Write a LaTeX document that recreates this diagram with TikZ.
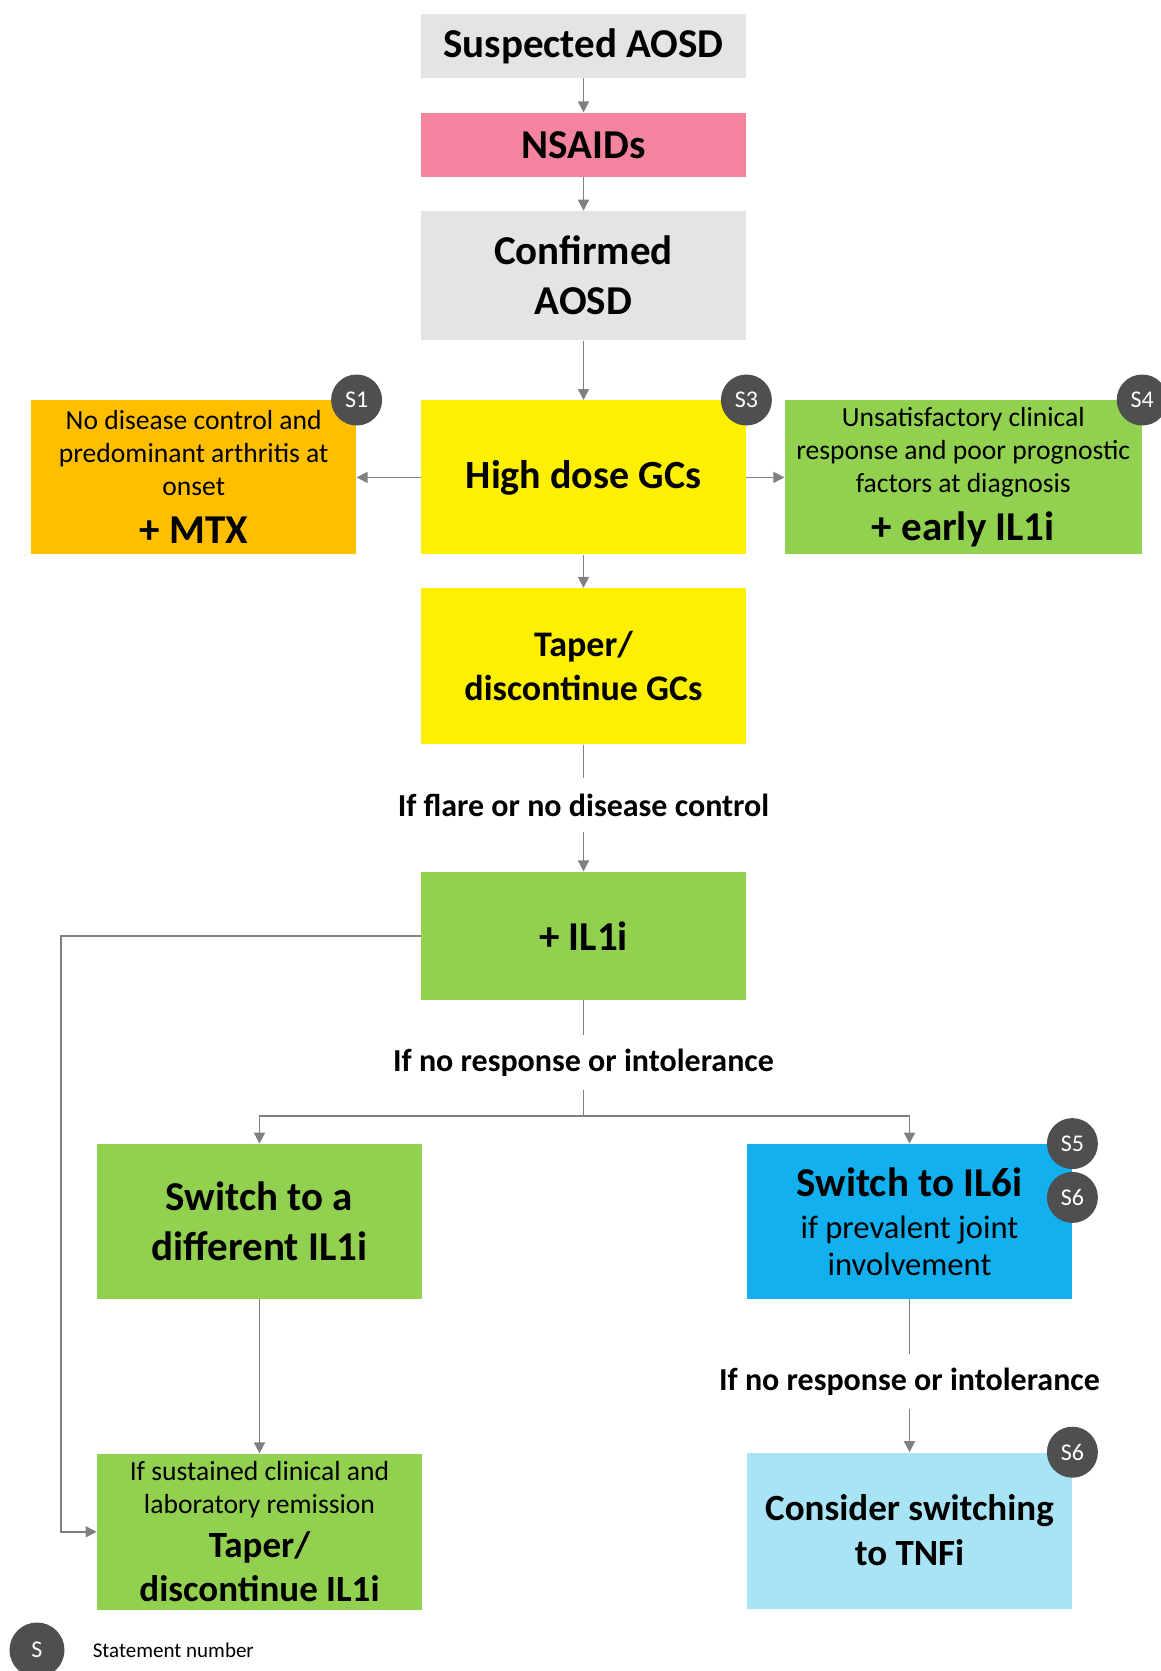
\documentclass[tikz,border=0pt]{standalone}
\usepackage{fontspec}
\setmainfont{Carlito}
\usepackage{xcolor}
\usetikzlibrary{arrows.meta, positioning, calc}
\definecolor{boxgray}{HTML}{E4E4E4}
\definecolor{nsaidpink}{HTML}{F4839F}
\definecolor{mtxorange}{HTML}{FFBF00}
\definecolor{gcyellow}{HTML}{FFEF00}
\definecolor{ilgreen}{HTML}{92D050}
\definecolor{ilblue}{HTML}{12B0EE}
\definecolor{tnfblue}{HTML}{A8E4F5}
\definecolor{badgegray}{HTML}{4F4F4F}
\definecolor{arrgray}{HTML}{808080}

\begin{document}
\begin{tikzpicture}[
    x=0.5pt, y=-0.5pt,
    box/.style={inner xsep=2pt, inner ysep=0pt, text width=158.5pt, minimum height=77pt,
                align=flush center, font=\fontsize{20.5}{25}\selectfont\bfseries},
    cond/.style={font=\fontsize{16}{19}\selectfont\bfseries, inner sep=0pt, minimum height=27pt},
    badge/.style={circle, fill=badgegray, text=white, minimum size=25.5pt, inner sep=0pt,
                  font=\fontsize{12}{14}\selectfont},
    arr/.style={-{Triangle[length=5.5pt, width=5.5pt]}, line width=0.8pt, draw=arrgray},
    line/.style={line width=0.8pt, draw=arrgray},
  ]
  \useasboundingbox (0,0) rectangle (1161,1671);

  % Main column
  \node[box, fill=boxgray, minimum height=32pt] (susp) at (583.5,46) {Suspected AOSD};
  \node[box, fill=nsaidpink, minimum height=32pt, below=17pt of susp] (nsaid) {NSAIDs};
  \node[box, fill=boxgray, minimum height=64.5pt, below=16.75pt of nsaid] (conf) {Confirmed\\AOSD};
  \node[box, fill=gcyellow, below=29.75pt of conf, font=\fontsize{20}{25}\selectfont\bfseries] (hdgc) {High dose GCs};

  % Side options
  \node[box, fill=mtxorange, left=32pt of hdgc, font=\fontsize{20.5}{24}\selectfont\bfseries] (mtx)
    {{\fontsize{13.8}{16.5}\selectfont\mdseries No disease control and\\predominant arthritis at\\onset\par}+ MTX};
  \node[box, fill=ilgreen, text width=174.5pt, right=19pt of hdgc, font=\fontsize{20.5}{24}\selectfont\bfseries] (eil1)
    {{\fontsize{13.8}{16.5}\selectfont\mdseries Unsatisfactory clinical\\response and poor prognostic\\factors at diagnosis\par}+ early IL1i};

  \node[box, fill=gcyellow, minimum height=78pt, below=16.5pt of hdgc, font=\fontsize{18}{22}\selectfont\bfseries] (taper) {Taper/\\discontinue GCs};
  \node[cond, below=16.5pt of taper] (flare) {If flare or no disease control};
  \node[box, fill=ilgreen, minimum height=64pt, below=19.5pt of flare] (il1) {+ IL1i};
  \node[cond, below=17.5pt of il1] (noresp1) {If no response or intolerance};
  \coordinate[below=13pt of noresp1] (branch);

  % Second line
  \node[box, fill=ilgreen, minimum height=77.5pt] (sw1) at (259.5,1221.5) {Switch to a\\different IL1i};
  \node[box, fill=ilblue, minimum height=77.5pt] (sw6) at (909.5,1221.5)
    {Switch to IL6i\par\vspace{2.5pt}{\fontsize{16.3}{18.5}\selectfont\mdseries if prevalent joint\\involvement\par}};
  \node[box, fill=ilgreen, minimum height=78pt, below=77pt of sw1, font=\fontsize{18.5}{22}\selectfont\bfseries] (tap2)
    {{\fontsize{13.8}{16.5}\selectfont\mdseries If sustained clinical and\\laboratory remission\par}Taper/\\discontinue IL1i};
  \node[cond, below=27.5pt of sw6] (noresp2) {If no response or intolerance};
  \node[box, fill=tnfblue, minimum height=78pt, below=21.5pt of noresp2, font=\fontsize{18.5}{22.5}\selectfont\bfseries] (tnf)
    {Consider switching\\to TNFi};
  \coordinate (loop) at (61,936);

  % Statement badges
  \node[badge] (b1) at (mtx.north east) {S1};
  \node[badge] (b3) at (hdgc.north east) {S3};
  \node[badge] (b4) at (eil1.north east) {S4};
  \node[badge] (b5) at (sw6.north east) {S5};
  \node[badge, below=1pt of b5] (b6) {S6};
  \node[badge] (b6b) at (tnf.north east) {S6};

  % Legend
  \node[badge, minimum size=27.5pt] (legs) at (37,1650) {S};
  \node[right=13.75pt of legs, inner sep=0pt, font=\fontsize{10.5}{12}\selectfont] (legtxt) {Statement number};

  % Arrows
  \draw[arr] (susp) -- (nsaid);
  \draw[arr] (nsaid) -- (conf);
  \draw[arr] (conf) -- (hdgc);
  \draw[arr] (hdgc) -- (mtx);
  \draw[arr] (hdgc) -- (eil1);
  \draw[arr] (hdgc) -- (taper);
  \draw[line] (taper) -- (flare);
  \draw[arr] (flare) -- (il1);
  \draw[line] (il1) -- (noresp1);
  \draw[line] (noresp1) -- (branch);
  \draw[arr] (branch) -| (sw1);
  \draw[arr] (branch) -| (sw6);
  \draw[arr] (sw1) -- (tap2);
  \draw[line] (sw6) -- (noresp2);
  \draw[arr] (noresp2) -- (tnf);
  \draw[arr] (il1.west) -- (il1.west -| loop) |- (tap2.west);

\end{tikzpicture}
\end{document}
